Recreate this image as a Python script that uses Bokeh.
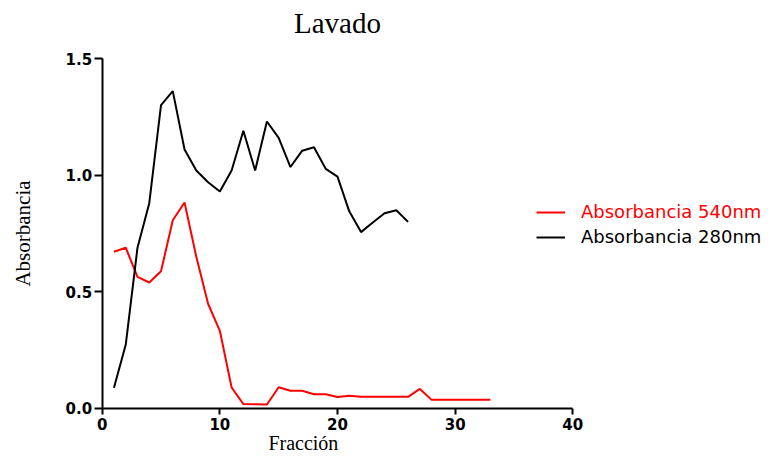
import math
from bokeh.plotting import figure
from bokeh.models import (Range1d, LinearAxis, FixedTicker, PrintfTickFormatter,
                          Legend, LegendItem, ColumnDataSource)
from bokeh.core.properties import value
from bokeh.embed import file_html
from bokeh.resources import INLINE

# ---- data ----
fraccion_280 = list(range(1, 27))
abs_280 = [0.089, 0.273, 0.689, 0.88, 1.30, 1.36, 1.11, 1.02, 0.97, 0.93,
           1.02, 1.19, 1.02, 1.23, 1.16, 1.035, 1.105, 1.12, 1.027, 0.994,
           0.845, 0.756, 0.797, 0.837, 0.85, 0.80]
fraccion_540 = list(range(1, 34))
abs_540 = [0.672, 0.689, 0.564, 0.54, 0.588, 0.807, 0.883, 0.65, 0.449, 0.333,
           0.09, 0.019, 0.018, 0.017, 0.091, 0.076, 0.076, 0.061, 0.061, 0.049,
           0.055, 0.05, 0.05, 0.05, 0.05, 0.05, 0.084, 0.037, 0.037, 0.037,
           0.037, 0.037, 0.037]
x_ticks = [0, 10, 20, 30, 40]
y_ticks = [0.0, 0.5, 1.0, 1.5]
title_text = "Lavado"
x_label = "Fracción"
y_label = "Absorbancia"
label_540 = "Absorbancia 540nm"
label_280 = "Absorbancia 280nm"

W, H = 765, 458
p = figure(width=W, height=H, output_backend="svg", toolbar_location=None,
           x_axis_type=None, y_axis_type=None,
           x_range=Range1d(-8.644, 56.38), y_range=Range1d(-0.2143, 1.7486),
           min_border=0, min_border_left=0, min_border_right=0,
           min_border_top=0, min_border_bottom=0)
p.outline_line_color = None
p.background_fill_color = "white"
p.border_fill_color = "white"

xaxis = LinearAxis(fixed_location=0, bounds=(0, 40),
                   ticker=FixedTicker(ticks=x_ticks))
yaxis = LinearAxis(fixed_location=0, bounds=(0, 1.5),
                   ticker=FixedTicker(ticks=y_ticks),
                   formatter=PrintfTickFormatter(format="%.1f"))
for ax in (xaxis, yaxis):
    ax.axis_line_width = 2
    ax.axis_line_color = "black"
    ax.major_tick_line_width = 2
    ax.major_tick_line_color = "black"
    ax.major_tick_in = 0
    ax.minor_tick_line_color = None
    ax.major_label_text_font = "DejaVu Sans"
    ax.major_label_text_font_style = "bold"
    ax.major_label_text_font_size = "15px"
    ax.major_label_text_color = "black"
xaxis.major_tick_out = 6
xaxis.major_label_standoff = 4
yaxis.major_tick_out = 8
yaxis.major_label_standoff = 2
p.add_layout(xaxis, "below")
p.add_layout(yaxis, "left")

src540 = ColumnDataSource(dict(x=fraccion_540, y=abs_540))
src280 = ColumnDataSource(dict(x=fraccion_280, y=abs_280))
r540 = p.line("x", "y", source=src540, line_color="#ff0000", line_width=2)
r280 = p.line("x", "y", source=src280, line_color="black", line_width=2)

# title and axis labels as text
p.text(x=[20], y=[1.654], text=[title_text], text_font=value("Liberation Serif"),
       text_font_size="29px", text_align="center", text_baseline="middle",
       text_color="black")
p.text(x=[17.1], y=[-0.15], text=[x_label], text_font=value("Liberation Serif"),
       text_font_size="20px", text_align="center", text_baseline="middle",
       text_color="black")
p.text(x=[-6.77], y=[0.75], text=[y_label], text_font=value("Liberation Serif"),
       text_font_size="21px", text_align="center", text_baseline="middle",
       angle=math.pi / 2, text_color="black")

def make_legend(item_label, renderer, color, loc):
    lg = Legend(items=[LegendItem(label=item_label, renderers=[renderer])],
                location=loc, margin=0, padding=0, spacing=0,
                glyph_width=29, glyph_height=16, label_height=16,
                label_standoff=16, border_line_color=None,
                background_fill_alpha=0, label_text_font="DejaVu Sans",
                label_text_font_size="18px", label_text_color=color)
    return lg

p.add_layout(make_legend(label_540, r540, "#ff0000", (536, 236)), "center")
p.add_layout(make_legend(label_280, r280, "black", (536, 211)), "center")

open("out.html", "w").write(file_html(p, INLINE))
